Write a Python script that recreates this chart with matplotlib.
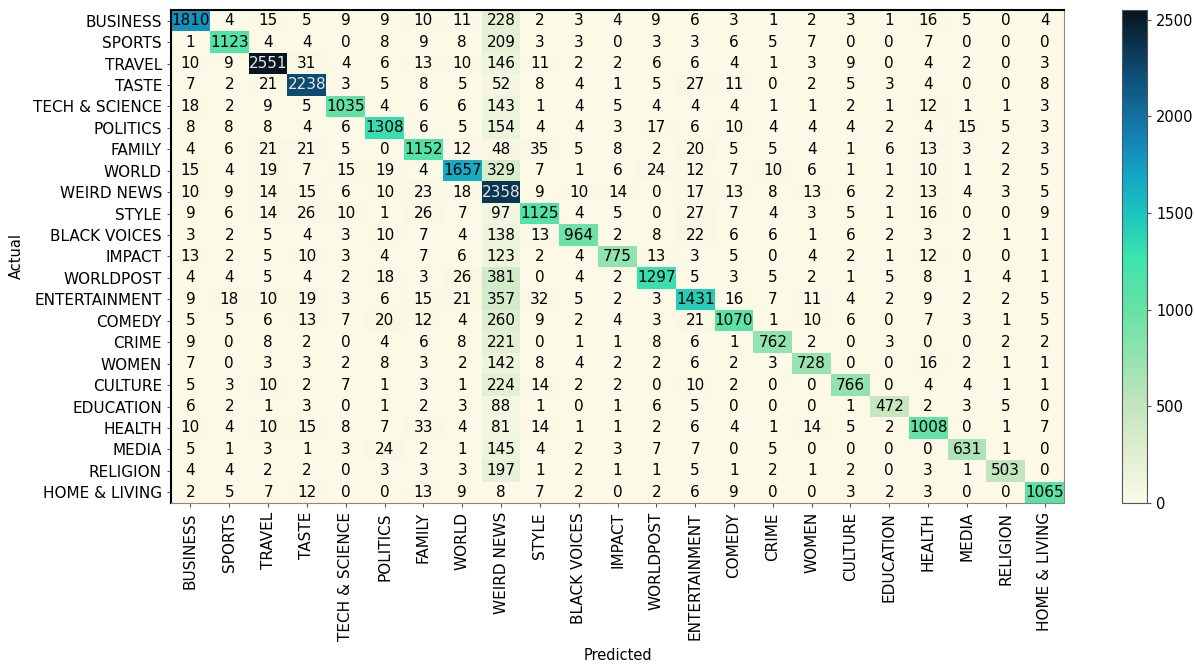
import numpy as np
import matplotlib
matplotlib.use('Agg')
import matplotlib.pyplot as plt
from matplotlib.colors import LinearSegmentedColormap

labels = ['BUSINESS', 'SPORTS', 'TRAVEL', 'TASTE', 'TECH & SCIENCE', 'POLITICS',
          'FAMILY', 'WORLD', 'WEIRD NEWS', 'STYLE', 'BLACK VOICES', 'IMPACT',
          'WORLDPOST', 'ENTERTAINMENT', 'COMEDY', 'CRIME', 'WOMEN', 'CULTURE',
          'EDUCATION', 'HEALTH', 'MEDIA', 'RELIGION', 'HOME & LIVING']

# rows = actual class, columns = predicted class
cm = np.array([
    [1810, 4, 15, 5, 9, 9, 10, 11, 228, 2, 3, 4, 9, 6, 3, 1, 2, 3, 1, 16, 5, 0, 4],
    [1, 1123, 4, 4, 0, 8, 9, 8, 209, 3, 3, 0, 3, 3, 6, 5, 7, 0, 0, 7, 0, 0, 0],
    [10, 9, 2551, 31, 4, 6, 13, 10, 146, 11, 2, 2, 6, 6, 4, 1, 3, 9, 0, 4, 2, 0, 3],
    [7, 2, 21, 2238, 3, 5, 8, 5, 52, 8, 4, 1, 5, 27, 11, 0, 2, 5, 3, 4, 0, 0, 8],
    [18, 2, 9, 5, 1035, 4, 6, 6, 143, 1, 4, 5, 4, 4, 4, 1, 1, 2, 1, 12, 1, 1, 3],
    [8, 8, 8, 4, 6, 1308, 6, 5, 154, 4, 4, 3, 17, 6, 10, 4, 4, 4, 2, 4, 15, 5, 3],
    [4, 6, 21, 21, 5, 0, 1152, 12, 48, 35, 5, 8, 2, 20, 5, 5, 4, 1, 6, 13, 3, 2, 3],
    [15, 4, 19, 7, 15, 19, 4, 1657, 329, 7, 1, 6, 24, 12, 7, 10, 6, 1, 1, 10, 1, 2, 5],
    [10, 9, 14, 15, 6, 10, 23, 18, 2358, 9, 10, 14, 0, 17, 13, 8, 13, 6, 2, 13, 4, 3, 5],
    [9, 6, 14, 26, 10, 1, 26, 7, 97, 1125, 4, 5, 0, 27, 7, 4, 3, 5, 1, 16, 0, 0, 9],
    [3, 2, 5, 4, 3, 10, 7, 4, 138, 13, 964, 2, 8, 22, 6, 6, 1, 6, 2, 3, 2, 1, 1],
    [13, 2, 5, 10, 3, 4, 7, 6, 123, 2, 4, 775, 13, 3, 5, 0, 4, 2, 1, 12, 0, 0, 1],
    [4, 4, 5, 4, 2, 18, 3, 26, 381, 0, 4, 2, 1297, 5, 3, 5, 2, 1, 5, 8, 1, 4, 1],
    [9, 18, 10, 19, 3, 6, 15, 21, 357, 32, 5, 2, 3, 1431, 16, 7, 11, 4, 2, 9, 2, 2, 5],
    [5, 5, 6, 13, 7, 20, 12, 4, 260, 9, 2, 4, 3, 21, 1070, 1, 10, 6, 0, 7, 3, 1, 5],
    [9, 0, 8, 2, 0, 4, 6, 8, 221, 0, 1, 1, 8, 6, 1, 762, 2, 0, 3, 0, 0, 2, 2],
    [7, 0, 3, 3, 2, 8, 3, 2, 142, 8, 4, 2, 2, 6, 2, 3, 728, 0, 0, 16, 2, 1, 1],
    [5, 3, 10, 2, 7, 1, 3, 1, 224, 14, 2, 2, 0, 10, 2, 0, 0, 766, 0, 4, 4, 1, 1],
    [6, 2, 1, 3, 0, 1, 2, 3, 88, 1, 0, 1, 6, 5, 0, 0, 0, 1, 472, 2, 3, 5, 0],
    [10, 4, 10, 15, 8, 7, 33, 4, 81, 14, 1, 1, 2, 6, 4, 1, 14, 5, 2, 1008, 0, 1, 7],
    [5, 1, 3, 1, 3, 24, 2, 1, 145, 4, 2, 3, 7, 7, 0, 5, 0, 0, 0, 0, 631, 1, 0],
    [4, 4, 2, 2, 0, 3, 3, 3, 197, 1, 2, 1, 1, 5, 1, 2, 1, 2, 0, 3, 1, 503, 0],
    [2, 5, 7, 12, 0, 0, 13, 9, 8, 7, 2, 0, 2, 6, 9, 0, 0, 3, 2, 3, 0, 0, 1065],
])

# cream -> mint -> teal -> blue -> navy
cmap = LinearSegmentedColormap.from_list('cream_deep', [
    (0.00, '#fcf9e6'),
    (0.20, '#c2e5bd'),
    (0.40, '#62e1a3'),
    (0.50, '#3ce4ad'),
    (0.58, '#1ec6bc'),
    (0.66, '#15a8c6'),
    (0.74, '#1383b6'),
    (0.80, '#126a99'),
    (0.88, '#0d4a70'),
    (1.00, '#08141f'),
])

n = len(labels)
vmax = cm.max()

fig = plt.figure(figsize=(11.95, 6.64), dpi=100)
ax = fig.add_axes([0.1431, 0.2425, 0.7473, 0.7425])
cax = fig.add_axes([0.9389, 0.2425, 0.0209, 0.7425])

mesh = ax.pcolormesh(np.arange(n + 1), np.arange(n + 1), cm, cmap=cmap,
                     vmin=0, vmax=vmax)
ax.set_xlim(0, n)
ax.set_ylim(n, 0)

for i in range(n):
    for j in range(n):
        v = cm[i, j]
        color = '#e6e6e6' if v > 2100 else 'black'
        ax.text(j + 0.5, i + 0.5, str(v), ha='center', va='center',
                fontsize=11, color=color)

ax.set_xticks(np.arange(n) + 0.5)
ax.set_yticks(np.arange(n) + 0.5)
ax.set_xticklabels(labels, rotation=90, fontsize=11)
ax.set_yticklabels(labels, fontsize=11)
ax.tick_params(length=3, color='#555555')
ax.set_xlabel('Predicted', fontsize=10.5)
ax.set_ylabel('Actual', fontsize=10.5)
ax.xaxis.set_label_coords(0.5, -0.295)
ax.yaxis.set_label_coords(-0.165, 0.5)

for side in ['top', 'left']:
    ax.spines[side].set_color('black')
    ax.spines[side].set_linewidth(1.5)
for side in ['right', 'bottom']:
    ax.spines[side].set_color('#888888')
    ax.spines[side].set_linewidth(0.8)

cb = fig.colorbar(mesh, cax=cax)
cb.set_ticks([0, 500, 1000, 1500, 2000, 2500])
cb.ax.tick_params(labelsize=10.5, length=3, color='#555555')
cb.outline.set_edgecolor('#555555')
cb.outline.set_linewidth(0.8)

fig.savefig('out.png', dpi=100)
